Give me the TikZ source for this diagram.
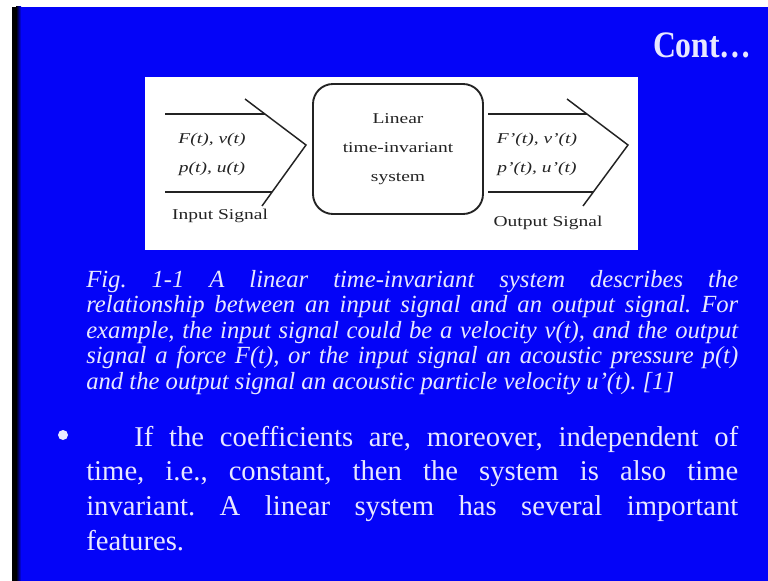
\documentclass[tikz,border=0pt]{standalone}
\usepackage{fontspec}
\setmainfont{Liberation Serif}
\usepackage{graphicx}
\definecolor{slide}{RGB}{4,4,248}
\definecolor{slidetext}{RGB}{232,232,255}
\definecolor{ink}{RGB}{35,35,35}
\newcommand{\wide}[1]{\scalebox{1.3}[1]{#1}}
% a justified block of given width, scaled horizontally by a factor
\newcommand{\squeezed}[3]{\scalebox{#1}[1]{\parbox[t]{#2}{\frenchspacing
  \tolerance=10000\hbadness=10000\parindent=0pt #3}}}
\tikzset{
  sig/.style={draw=ink, line width=1.1pt},
  lab/.style={text=ink, inner sep=0, font=\fontsize{11.25}{13}\selectfont},
  ilab/.style={lab, font=\fontsize{11.25}{13}\selectfont\itshape},
  sysbox/.style={draw=ink, line width=1.4pt, rounded corners=15pt,
    minimum width=127.5pt, minimum height=97.5pt, inner sep=0,
    align=center, text=ink, font=\fontsize{11.25}{21.75}\selectfont},
  para/.style={anchor=base west, inner sep=0, text=slidetext}
}
\begin{document}
\begin{tikzpicture}[x=0.75pt,y=-0.75pt]
\useasboundingbox (0,0) rectangle (768,581);
% slide background with dark left rim
\fill[white] (0,0) rectangle (768,581);
\fill[slide] (12,7) rectangle (768,581);
\fill[black] (12,7) rectangle (16,581);
\shade[left color=black,right color=slide] (16,7) rectangle (21,581);

% heading
\node[anchor=base east, inner sep=0, text=slidetext,
  font=\bfseries\fontsize{28}{30}\selectfont] (title) at (752,58)
  {\scalebox{0.85}[1]{Cont…}};

% figure panel
\fill[white] (145,77) rectangle (638,250);

% system block
\node[sysbox] (sys) at (398,149)
  {\wide{Linear}\\ \wide{time-invariant}\\ \wide{system}};

% input signal arrow
\coordinate (inTL) at (165,114);
\coordinate (inTR) at (265,114);
\coordinate (inBL) at (165,192);
\coordinate (inBR) at (272,192);
\coordinate (inC1) at (245,99);
\coordinate (inC2) at (306,145);
\coordinate (inC3) at (262,206);
\draw[sig] (inTL) -- (inTR);
\draw[sig] (inBL) -- (inBR);
\draw[sig] (inC1) -- (inC2) -- (inC3);
\node[ilab] (in1) at (212,140) {\wide{F(t), v(t)}};
\node[ilab] (in2) at (212,169) {\wide{p(t), u(t)}};
\node[lab] (inl) at (220,216) {\wide{Input Signal}};

% output signal arrow
\coordinate (outTL) at (488,114);
\coordinate (outTR) at (587,114);
\coordinate (outBL) at (488,192);
\coordinate (outBR) at (593,192);
\coordinate (outC1) at (567,99);
\coordinate (outC2) at (628,145);
\coordinate (outC3) at (583,206);
\draw[sig] (outTL) -- (outTR);
\draw[sig] (outBL) -- (outBR);
\draw[sig] (outC1) -- (outC2) -- (outC3);
\node[ilab] (out1) at (537,140) {\wide{F'(t), v'(t)}};
\node[ilab] (out2) at (537,169) {\wide{p'(t), u'(t)}};
\node[lab] (outl) at (548,223) {\wide{Output Signal}};

% caption
\node[para, font=\fontsize{18.5}{19.2}\selectfont\itshape] (cap) at (86,287)
  {\squeezed{1}{489pt}{%
   Fig. 1-1 A linear time-invariant system describes the\linebreak
   relationship between an input signal and an output signal. For\linebreak
   example, the input signal could be a velocity v(t), and the output\linebreak
   signal a force F(t), or the input signal an acoustic pressure p(t)\linebreak
   and the output signal an acoustic particle velocity u'(t). [1]}};

% bullet point
\fill[slidetext] (63,435) circle (5);
\node[para, font=\fontsize{21.5}{26.1}\selectfont] (body) at (86,446)
  {\squeezed{1}{489pt}{%
   \hspace*{36pt}If the coefficients are, moreover, independent of\linebreak
   time, i.e., constant, then the system is also time\linebreak
   invariant. A linear system has several important\linebreak
   features.}};
\end{tikzpicture}
\end{document}
